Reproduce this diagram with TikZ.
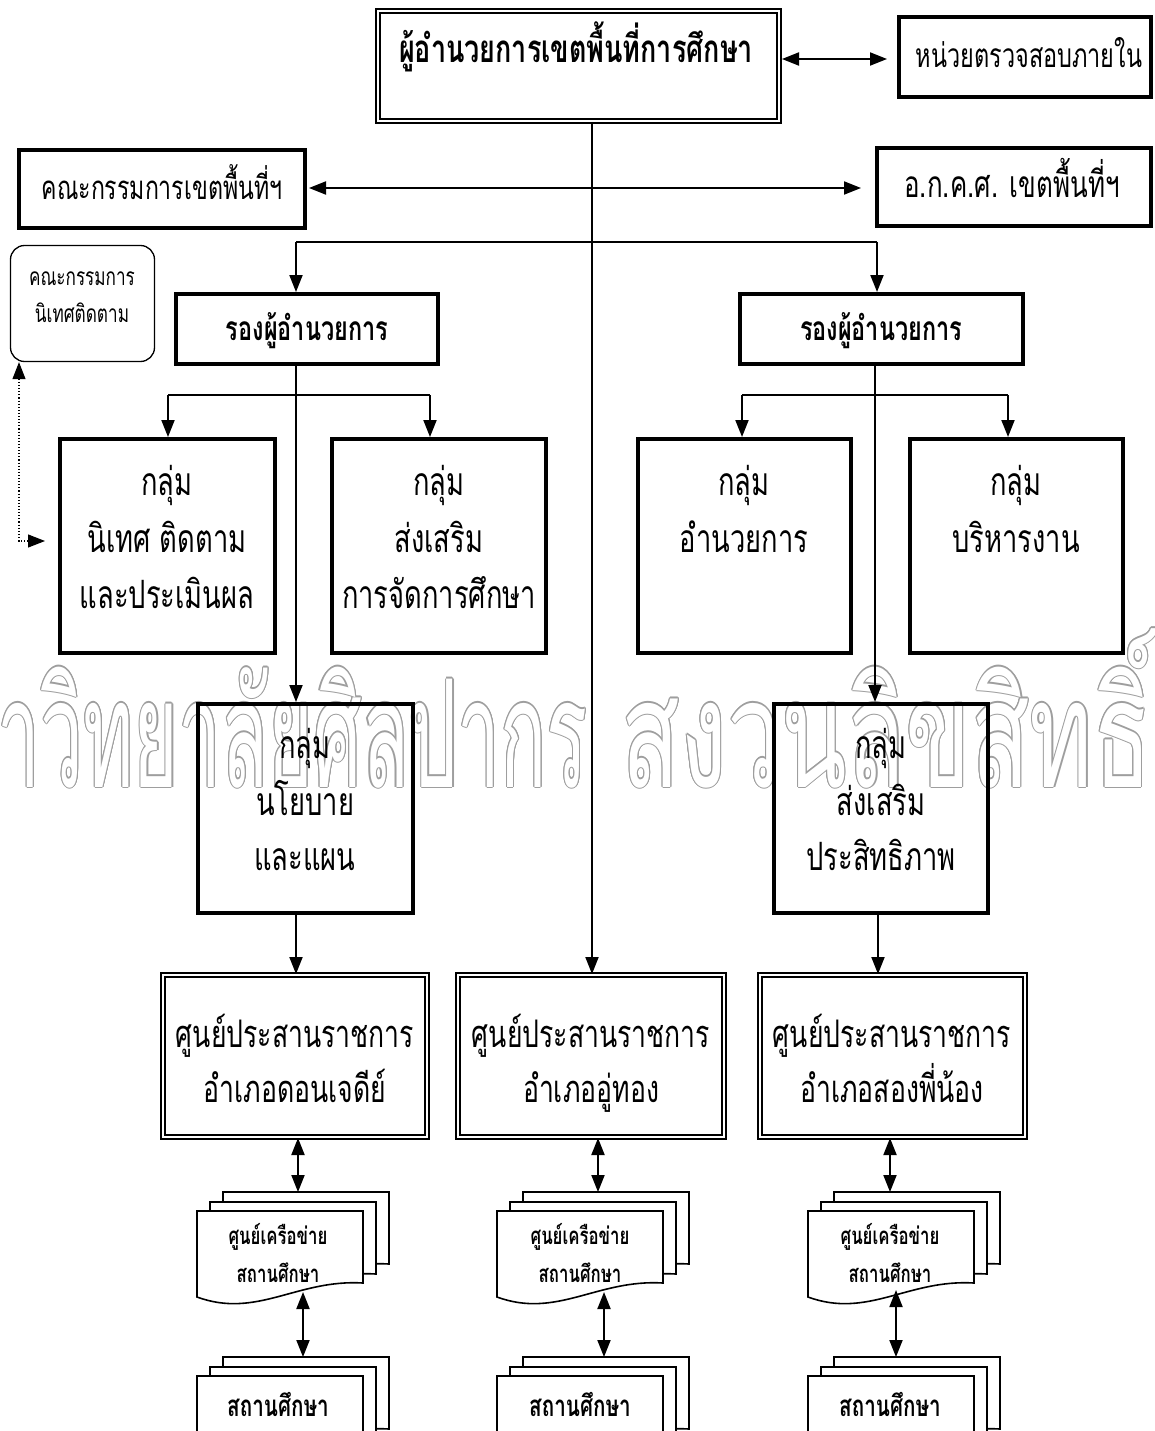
\documentclass[tikz,border=0pt]{standalone}
\usepackage{fontspec}
\usetikzlibrary{arrows.meta}
\newfontfamily\thaifont[Script=Thai,FakeStretch=0.7]{Loma}
\newfontfamily\wmfont[Script=Thai,FakeStretch=0.64]{Loma}
\newfontfamily\wmfontnarrow[Script=Thai,FakeStretch=0.51]{Loma}
\definecolor{wmgray}{gray}{0.62}

\tikzset{
  heavy/.style={draw, line width=4pt, inner sep=0pt},
  framed/.style={draw, line width=2pt, double=white, double distance=2.2pt, inner sep=0pt},
  softbox/.style={draw, line width=1.3pt, rounded corners=14pt, inner sep=0pt},
  lbl/.style={anchor=base, inner sep=0pt, font=\fontsize{#1}{#1}\thaifont},
  blbl/.style={anchor=base, inner sep=0pt, font=\fontsize{#1}{#1}\thaifont\bfseries},
  ftri/.tip={Triangle[length=17pt,width=13pt]},
  wire/.style={line width=1.9pt},
  link/.style={line width=1.9pt, -ftri},
  link2/.style={line width=1.9pt, ftri-ftri},
  dotlink/.style={line width=1.1pt, dotted, ftri-ftri},
  sheet/.style={line width=1.6pt, fill=white},
  wm/.style={anchor=base east, inner sep=0pt, font=\fontsize{150}{150}\wmfont},
  wmn/.style={anchor=base east, inner sep=0pt, font=\fontsize{150}{150}\wmfontnarrow},
}

% stacked document symbol: three sheets, wavy lower edge
\newcommand\docstack[2]{%
  \foreach \dx/\dy in {26/-19,13/-9,0/0}{
    \begin{scope}[shift={(#1+\dx,#2+\dy)}]
      \filldraw[sheet] (0,0) -- (166,0) -- (166,72)
        .. controls (100,68) and (60,108) .. (0,86) -- cycle;
    \end{scope}
  }%
}

\begin{document}
\begin{tikzpicture}[x=1pt,y=-1pt]
\useasboundingbox (0,0) rectangle (1155,1431);
\clip (0,0) rectangle (1155,1431);

% outlined copyright lettering
\foreach \a in {0,30,...,330}{
  \node[wmn, text=wmgray, shift={(\a:1.1pt)}] (wmA\a) at (588,787) {มหาวิทยาลัยศิลปากร};
  \node[wm, text=wmgray, shift={(\a:1.1pt)}] (wmB\a) at (1152,787) {สงวนลิขสิทธิ์};
}
\node[wmn, text=white] (wmA) at (588,787) {มหาวิทยาลัยศิลปากร};
\node[wm, text=white] (wmB) at (1152,787) {สงวนลิขสิทธิ์};

% top level
\node[framed, minimum width=401pt, minimum height=110pt] (director) at (578.5,66) {};
\node[blbl=38.5] (directorT) at (576,63) {ผู้อำนวยการเขตพื้นที่การศึกษา};
\node[heavy, minimum width=252pt, minimum height=80pt] (audit) at (1025,57) {};
\node[lbl=33.5] (auditT) at (1029,68) {หน่วยตรวจสอบภายใน};
\node[heavy, minimum width=286pt, minimum height=78pt] (board) at (162,189) {};
\node[lbl=33] (boardT) at (162,200) {คณะกรรมการเขตพื้นที่ฯ};
\node[heavy, minimum width=274pt, minimum height=78pt] (okks) at (1014,187) {};
\node[lbl=37] (okksT) at (1012,198) {อ.ก.ค.ศ. เขตพื้นที่ฯ};

% deputies
\node[heavy, minimum width=262pt, minimum height=70pt] (depL) at (307,329) {};
\node[blbl=33.5] (depLT) at (307,340) {รองผู้อำนวยการ};
\node[heavy, minimum width=283pt, minimum height=70pt] (depR) at (881.5,329) {};
\node[blbl=33.5] (depRT) at (881,340) {รองผู้อำนวยการ};
\node[softbox, minimum width=144pt, minimum height=116pt] (sup) at (82.5,303.5) {};
\node[lbl=24.5] (supT1) at (82,285) {คณะกรรมการ};
\node[lbl=24.5] (supT2) at (82,322) {นิเทศติดตาม};

% work groups
\node[heavy, minimum width=215pt, minimum height=214pt] (g1) at (167.5,546) {};
\node[lbl=39] (g1a) at (167,495) {กลุ่ม};
\node[lbl=39] (g1b) at (167,552) {นิเทศ ติดตาม};
\node[lbl=39] (g1c) at (167,608) {และประเมินผล};
\node[heavy, minimum width=214pt, minimum height=214pt] (g2) at (439,546) {};
\node[lbl=39] (g2a) at (439,495) {กลุ่ม};
\node[lbl=39] (g2b) at (439,552) {ส่งเสริม};
\node[lbl=39] (g2c) at (439,608) {การจัดการศึกษา};
\node[heavy, minimum width=213pt, minimum height=214pt] (g3) at (744.5,546) {};
\node[lbl=39] (g3a) at (744,495) {กลุ่ม};
\node[lbl=39] (g3b) at (744,552) {อำนวยการ};
\node[heavy, minimum width=213pt, minimum height=214pt] (g4) at (1016.5,546) {};
\node[lbl=39] (g4a) at (1016,495) {กลุ่ม};
\node[lbl=39] (g4b) at (1016,552) {บริหารงาน};
\node[heavy, minimum width=215pt, minimum height=209pt] (g5) at (305.5,808.5) {};
\node[lbl=39] (g5a) at (305,758) {กลุ่ม};
\node[lbl=39] (g5b) at (305,815) {นโยบาย};
\node[lbl=39] (g5c) at (305,870) {และแผน};
\node[heavy, minimum width=214pt, minimum height=209pt] (g6) at (881,808.5) {};
\node[lbl=39] (g6a) at (881,758) {กลุ่ม};
\node[lbl=39] (g6b) at (881,815) {ส่งเสริม};
\node[lbl=39] (g6c) at (881,870) {ประสิทธิภาพ};

% district coordination centres
\node[framed, minimum width=264pt, minimum height=162pt] (c1) at (295,1056) {};
\node[lbl=38] (c1a) at (295,1047) {ศูนย์ประสานราชการ};
\node[lbl=38] (c1b) at (295,1102) {อำเภอดอนเจดีย์};
\node[framed, minimum width=266pt, minimum height=162pt] (c2) at (591,1056) {};
\node[lbl=38] (c2a) at (591,1047) {ศูนย์ประสานราชการ};
\node[lbl=38] (c2b) at (591,1102) {อำเภออู่ทอง};
\node[framed, minimum width=265pt, minimum height=162pt] (c3) at (892.5,1056) {};
\node[lbl=38] (c3a) at (892,1047) {ศูนย์ประสานราชการ};
\node[lbl=38] (c3b) at (892,1102) {อำเภอสองพี่น้อง};

% school network and school stacks
\docstack{197}{1211}
\docstack{497}{1211}
\docstack{808}{1211}
\docstack{197}{1376}
\docstack{497}{1376}
\docstack{808}{1376}
\node[blbl=24] (n1a) at (278,1244) {ศูนย์เครือข่าย};
\node[blbl=24] (n1b) at (278,1282) {สถานศึกษา};
\node[blbl=24] (n2a) at (580,1244) {ศูนย์เครือข่าย};
\node[blbl=24] (n2b) at (580,1282) {สถานศึกษา};
\node[blbl=24] (n3a) at (890,1244) {ศูนย์เครือข่าย};
\node[blbl=24] (n3b) at (890,1282) {สถานศึกษา};
\node[blbl=29.5] (s1) at (278,1416) {สถานศึกษา};
\node[blbl=29.5] (s2) at (580,1416) {สถานศึกษา};
\node[blbl=29.5] (s3) at (890,1416) {สถานศึกษา};

% connector guide points
\coordinate (trunk) at (592,0);
\coordinate (ay) at (0,59);
\coordinate (by) at (0,188);
\coordinate (brL) at (296,242);
\coordinate (brR) at (877,242);
\coordinate (lx) at (296,0);
\coordinate (rx) at (875,0);
\coordinate (lbL) at (168,395);
\coordinate (lbR) at (430,395);
\coordinate (rbL) at (742,395);
\coordinate (rbR) at (1008,395);
\coordinate (rx2) at (878,0);
\coordinate (dx) at (19,0);
\coordinate (dotEnd) at (45,541);
\coordinate (n1in) at (298,1192);
\coordinate (n2in) at (598,1192);
\coordinate (n3in) at (890,1192);
\coordinate (n1out) at (303,1292);
\coordinate (n2out) at (604,1292);
\coordinate (n3out) at (896,1290);
\coordinate (s1in) at (303,1357);
\coordinate (s2in) at (604,1357);
\coordinate (s3in) at (896,1357);

% connectors
\draw[link] (director.south -| trunk) -- (c2.north -| trunk);
\draw[link2, shorten <=2pt, shorten >=10pt] (director.east |- ay) -- (audit.west |- ay);
\draw[link2, shorten <=2pt, shorten >=14pt] (board.east |- by) -- (okks.west |- by);
\draw[wire] (brL) -- (brR);
\draw[link] (brL) -- (depL.north -| brL);
\draw[link] (brR) -- (depR.north -| brR);
\draw[link] (depL.south -| lx) -- (g5.north -| lx);
\draw[wire] (lbL) -- (lbR);
\draw[link] (lbL) -- (g1.north -| lbL);
\draw[link] (lbR) -- (g2.north -| lbR);
\draw[link] (depR.south -| rx) -- (g6.north -| rx);
\draw[wire] (rbL) -- (rbR);
\draw[link] (rbL) -- (g3.north -| rbL);
\draw[link] (rbR) -- (g4.north -| rbR);
\draw[link] (g5.south -| lx) -- (c1.north -| lx);
\draw[link] (g6.south -| rx2) -- (c3.north -| rx2);
\draw[dotlink] (sup.south -| dx) |- (dotEnd);
\draw[link2] (c1.south -| n1in) -- (n1in);
\draw[link2] (c2.south -| n2in) -- (n2in);
\draw[link2] (c3.south -| n3in) -- (n3in);
\draw[link2] (n1out) -- (s1in);
\draw[link2] (n2out) -- (s2in);
\draw[link2] (n3out) -- (s3in);
\end{tikzpicture}
\end{document}
